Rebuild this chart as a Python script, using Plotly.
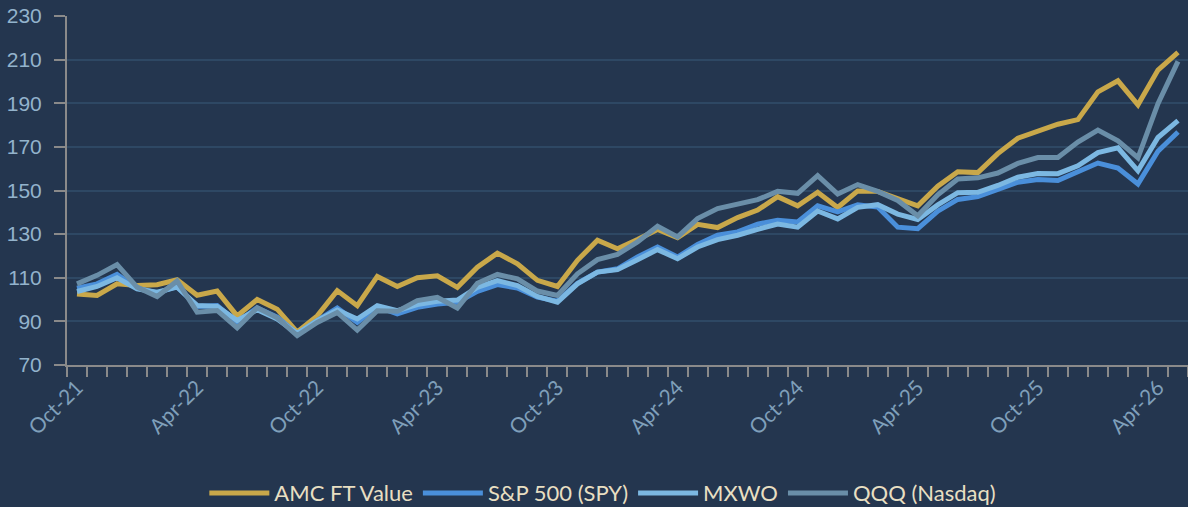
import plotly.graph_objects as go

months = [
    "Oct-21", "Nov-21", "Dec-21", "Jan-22", "Feb-22", "Mar-22", "Apr-22", "May-22", "Jun-22", "Jul-22",
    "Aug-22", "Sep-22", "Oct-22", "Nov-22", "Dec-22", "Jan-23", "Feb-23", "Mar-23", "Apr-23", "May-23",
    "Jun-23", "Jul-23", "Aug-23", "Sep-23", "Oct-23", "Nov-23", "Dec-23", "Jan-24", "Feb-24", "Mar-24",
    "Apr-24", "May-24", "Jun-24", "Jul-24", "Aug-24", "Sep-24", "Oct-24", "Nov-24", "Dec-24", "Jan-25",
    "Feb-25", "Mar-25", "Apr-25", "May-25", "Jun-25", "Jul-25", "Aug-25", "Sep-25", "Oct-25", "Nov-25",
    "Dec-25", "Jan-26", "Feb-26", "Mar-26", "Apr-26", "May-26",
]

amc = [
    102.6, 101.9, 107.2, 106.5, 106.8, 109.1, 102.0, 103.9, 92.5, 100.0,
    95.6, 85.1, 92.5, 104.1, 97.2, 110.6, 106.0, 110.0, 110.9, 105.6,
    114.8, 121.3, 116.4, 108.8, 106.0, 118.0, 127.2, 123.3, 127.5, 132.1,
    128.4, 134.5, 133.0, 137.6, 141.0, 147.2, 143.0, 149.2, 142.2, 149.8,
    149.6, 146.2, 143.0, 152.0, 158.6, 158.2, 166.9, 174.0, 177.2, 180.4,
    182.5, 195.2, 200.3, 189.3, 205.2, 213.3,
]

spy = [
    105.2, 107.2, 111.5, 105.2, 103.0, 106.0, 96.8, 97.3, 89.6, 96.2,
    91.9, 84.2, 90.3, 96.1, 89.5, 96.7, 93.4, 96.4, 98.0, 98.7,
    103.8, 106.9, 105.3, 101.1, 99.3, 107.5, 112.6, 114.1, 119.5, 124.1,
    119.5, 125.3, 129.5, 131.0, 134.6, 136.4, 135.6, 143.0, 140.2, 143.5,
    142.4, 133.2, 132.5, 140.5, 145.9, 147.2, 150.5, 153.8, 155.0, 154.6,
    158.6, 162.6, 160.3, 153.0, 168.0, 176.8,
]

mxwo = [
    103.7, 106.0, 110.0, 104.9, 103.4, 105.7, 97.3, 96.8, 90.4, 95.3,
    91.1, 84.5, 90.3, 95.2, 91.1, 97.2, 94.9, 97.7, 99.2, 99.8,
    105.6, 108.7, 106.4, 101.4, 98.8, 107.2, 112.6, 113.7, 118.3, 122.9,
    118.7, 124.1, 127.5, 129.5, 132.2, 134.6, 133.2, 140.6, 137.0, 142.3,
    143.5, 139.2, 136.7, 143.4, 149.0, 149.2, 152.3, 156.1, 157.8, 157.7,
    161.3, 167.4, 169.6, 159.0, 174.3, 182.0,
]

qqq = [
    107.2, 111.1, 116.0, 105.7, 101.4, 108.5, 94.2, 95.0, 87.0, 96.2,
    91.6, 83.5, 89.5, 94.1, 86.0, 94.9, 94.6, 99.5, 101.0, 96.1,
    107.5, 111.5, 109.5, 103.9, 101.9, 111.8, 118.3, 120.7, 126.4, 133.6,
    128.7, 137.1, 141.7, 143.7, 145.8, 149.6, 148.7, 156.8, 148.4, 152.7,
    149.6, 145.4, 138.4, 148.0, 155.3, 155.8, 158.0, 162.4, 165.1, 165.1,
    172.2, 177.7, 172.8, 165.0, 189.8, 209.2,
]

label_every = 6
tick_text = [m if i % label_every == 0 else "" for i, m in enumerate(months)]

series = [
    ("AMC FT Value", amc, "#c9a84a"),
    ("S&P 500 (SPY)", spy, "#4a8fda"),
    ("MXWO", mxwo, "#7cb8e2"),
    ("QQQ (Nasdaq)", qqq, "#6a8ea8"),
]

fig = go.Figure()
for name, vals, color in series:
    fig.add_trace(go.Scatter(
        x=months, y=vals, name=name, mode="lines",
        line=dict(color=color, width=5),
    ))

bg = "#24364f"
axis_gray = "#8a8a8a"

fig.update_layout(
    width=1188, height=507,
    paper_bgcolor=bg, plot_bgcolor=bg,
    margin=dict(l=67, r=0, t=16, b=142, autoexpand=False),
    showlegend=True,
    legend=dict(
        orientation="h", x=0.478, xanchor="center", y=-0.367, yanchor="middle",
        font=dict(family="Lato", size=22, color="#e8dfc2"),
        itemwidth=60, bgcolor="rgba(0,0,0,0)", traceorder="normal",
    ),
    xaxis=dict(
        type="category", categoryorder="array", categoryarray=months,
        range=[-0.5, len(months) - 0.5],
        tickmode="array", tickvals=months, ticktext=tick_text,
        tickson="boundaries", ticks="outside", ticklen=10, tickwidth=2, tickcolor=axis_gray,
        showline=True, linecolor=axis_gray, linewidth=2,
        showgrid=False, tickangle=-45, automargin=False,
        tickfont=dict(family="Lato", size=21, color="#7f9fba"),
    ),
    yaxis=dict(
        range=[70, 230], tick0=70, dtick=20,
        ticks="outside", ticklen=11, tickwidth=2, tickcolor=axis_gray,
        showline=True, linecolor=axis_gray, linewidth=2,
        showgrid=True, gridcolor="#2e4864", gridwidth=1.5,
        zeroline=False, automargin=False,
        tickfont=dict(family="Liberation Sans", size=21, color="#93b3cc"),
        ticklabelstandoff=8,
    ),
)

fig.write_html(
    "out.html",
    config={"displayModeBar": False},
    post_script="document.body.style.margin='0';",
)
